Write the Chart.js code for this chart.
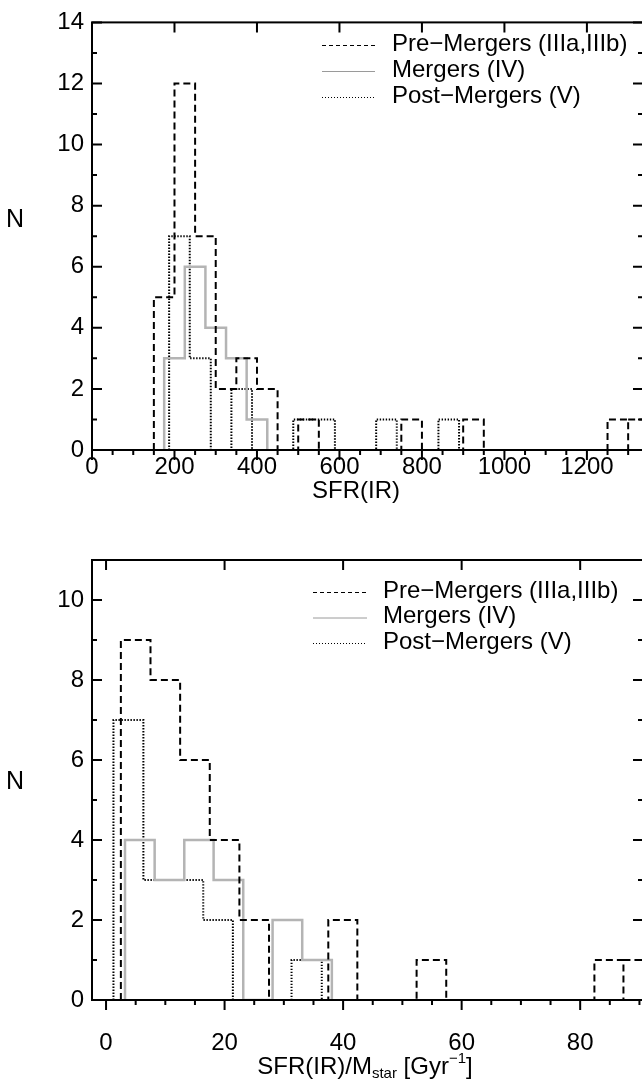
<!DOCTYPE html>
<html>
<head>
<meta charset="utf-8">
<script src="https://cdn.jsdelivr.net/npm/chart.js@4.4.1/dist/chart.umd.min.js"></script>
<style>
  html, body { margin: 0; padding: 0; background: #fff; overflow: hidden; width: 642px; height: 1080px; }
  .panel { position: absolute; left: 0; width: 660px; }
  #wrapTop { top: 0; height: 520px; }
  #wrapBot { top: 520px; height: 560px; }
  canvas { display: block; }
</style>
</head>
<body>
<div class="panel" id="wrapTop"><canvas id="sfr" width="660" height="520"></canvas></div>
<div class="panel" id="wrapBot"><canvas id="ssfr" width="660" height="560"></canvas></div>
<script>
// ---------- series labels ----------
const seriesLabels = ['Pre\u2212Mergers (IIIa,IIIb)', 'Mergers (IV)', 'Post\u2212Mergers (V)'];

// ---------- SFR(IR) histograms: bin edges and counts ----------
const sfrPreEdges = [150, 200, 250, 300, 350, 400, 450, 500, 550, 600, 650, 700, 750, 800, 850, 900, 950,
                     1000, 1050, 1100, 1150, 1200, 1250, 1300, 1350];
const sfrPreCounts = [5, 12, 7, 2, 3, 2, 0, 1, 0, 0, 0, 0, 1, 0, 0, 1, 0, 0, 0, 0, 0, 0, 1, 1];
const sfrPreBoxes = [23];            // bins drawn as a separate box
const sfrMergEdges = [175, 225, 275, 325, 375, 425];
const sfrMergCounts = [3, 6, 4, 3, 1];
const sfrPostEdges = [187, 237, 288, 338, 388, 438, 488, 539, 589, 639, 689, 739, 790, 840, 890];
const sfrPostCounts = [7, 3, 0, 2, 0, 0, 1, 1, 0, 0, 1, 0, 0, 1];

const sfrXTicks = [0, 200, 400, 600, 800, 1000, 1200];
const sfrYTicks = [0, 2, 4, 6, 8, 10, 12, 14];

// ---------- SFR(IR)/M_star histograms ----------
const ssfrPreEdges = [2.5, 7.5, 12.5, 17.5, 22.5, 27.5, 32.5, 37.5, 42.4, 47.4, 52.4, 57.4, 62.4, 67.4,
                      72.4, 77.4, 82.4, 87.3, 92.3];
const ssfrPreCounts = [9, 8, 6, 4, 2, 0, 0, 2, 0, 0, 1, 0, 0, 0, 0, 0, 1, 1];
const ssfrPreBoxes = [17];
const ssfrMergEdges = [3.2, 8.2, 13.2, 18.15, 23.15, 28.1, 33.1, 38.1];
const ssfrMergCounts = [4, 3, 4, 3, 0, 2, 1];
const ssfrPostEdges = [1.25, 6.3, 11.3, 16.4, 21.4, 26.4, 31.3, 36.4];
const ssfrPostCounts = [7, 3, 3, 2, 0, 0, 1];

const ssfrXTicks = [0, 20, 40, 60, 80];
const ssfrYTicks = [0, 2, 4, 6, 8, 10];

// ---------- helpers ----------
const FONT = "'Liberation Sans', Arial, Helvetica, sans-serif";

// step outline of a histogram: points at bin edges; each count holds until the next edge.
// A bin listed in `boxes` starts a new outline (the previous one closes at the baseline).
function outline(edges, counts, boxes) {
  const pts = [{ x: edges[0], y: 0 }];
  counts.forEach((c, i) => {
    if (boxes && boxes.includes(i)) {
      pts.push({ x: edges[i], y: 0 });
      pts.push({ x: edges[i], y: null });
    }
    pts.push({ x: edges[i], y: c });
  });
  pts.push({ x: edges[counts.length], y: 0 });
  return pts;
}

const styles = [
  { borderColor: '#000000', borderWidth: 2, borderDash: [7, 4], legendDash: [4, 3], legendColor: '#000' },
  { borderColor: '#b4b4b4', borderWidth: 2.5, borderDash: [], legendDash: [], legendColor: '#9a9a9a' },
  { borderColor: '#000000', borderWidth: 2, borderDash: [1.4, 1.6], legendDash: [1, 2], legendColor: '#000' }
];

function dataset(i, pts) {
  return {
    label: seriesLabels[i],
    data: pts,
    stepped: 'before',
    spanGaps: false,
    borderColor: styles[i].borderColor,
    borderWidth: styles[i].borderWidth,
    borderDash: styles[i].borderDash,
    borderCapStyle: 'butt',
    borderJoinStyle: 'miter',
    pointRadius: 0,
    fill: false,
    tension: 0
  };
}

// frame with inward ticks on left/top/right and outward ticks below
const framePlugin = {
  id: 'frame',
  afterDatasetsDraw(chart, args, o) {
    const { ctx, chartArea: a, scales: { x, y } } = chart;
    ctx.save();
    ctx.setLineDash([]);
    ctx.strokeStyle = '#000';
    ctx.lineWidth = 2;
    ctx.lineCap = 'butt';
    ctx.beginPath();
    // x ticks
    for (let v = o.xMinorFrom; v <= x.max + 1e-9; v += o.xMinorStep) {
      if (v < x.min - 1e-9) continue;
      const px = x.getPixelForValue(v);
      const major = o.xMajor.some(m => Math.abs(m - v) < 1e-6);
      const len = major ? 10 : 5;
      ctx.moveTo(px, a.bottom); ctx.lineTo(px, a.bottom + len);
      if (major) { ctx.moveTo(px, a.top); ctx.lineTo(px, a.top + 10); }
    }
    // y ticks
    for (let v = y.min; v <= y.max + 1e-9; v += o.yMinorStep) {
      const py = y.getPixelForValue(v);
      const major = o.yMajor.some(m => Math.abs(m - v) < 1e-6);
      const len = major ? 10 : 5;
      ctx.moveTo(a.left, py); ctx.lineTo(a.left + len, py);
      ctx.moveTo(a.right, py); ctx.lineTo(a.right - len, py);
    }
    ctx.stroke();
    ctx.strokeRect(a.left, a.top, a.right - a.left, a.bottom - a.top);

    // legend
    const L = o.legend;
    ctx.font = '24px ' + FONT;
    ctx.textBaseline = 'middle';
    ctx.textAlign = 'left';
    chart.data.datasets.forEach((ds, i) => {
      const yy = L.y + i * L.rowGap;
      ctx.beginPath();
      ctx.lineWidth = 1;
      ctx.strokeStyle = styles[i].legendColor;
      ctx.setLineDash(styles[i].legendDash);
      ctx.moveTo(L.x0, yy + 0.5); ctx.lineTo(L.x1, yy + 0.5);
      ctx.stroke();
      ctx.setLineDash([]);
      ctx.fillStyle = '#000';
      ctx.fillText(ds.label, L.tx, yy - 1);
    });

    // y axis letter
    ctx.font = '25px ' + FONT;
    ctx.textAlign = 'center';
    ctx.textBaseline = 'alphabetic';
    ctx.fillText('N', o.nPos[0], o.nPos[1]);

    // x axis title (with optional subscript / superscript parts)
    const parts = o.xTitle;
    let w = 0;
    parts.forEach(p => { ctx.font = (p.s || 24) + 'px ' + FONT; w += ctx.measureText(p.t).width; });
    let cx = o.xTitleX - w / 2;
    ctx.textAlign = 'left';
    parts.forEach(p => {
      ctx.font = (p.s || 24) + 'px ' + FONT;
      ctx.fillText(p.t, cx, o.xTitleY + (p.dy || 0));
      cx += ctx.measureText(p.t).width;
    });
    ctx.restore();
  }
};

function makeChart(id, cfg) {
  const tickFont = { family: FONT, size: 24 };
  return new Chart(document.getElementById(id), {
    type: 'line',
    data: { datasets: cfg.datasets },
    options: {
      responsive: false,
      devicePixelRatio: 1,
      animation: false,
      layout: { padding: { top: cfg.padTop, right: cfg.padRight, left: 0, bottom: 0 } },
      plugins: {
        legend: { display: false },
        tooltip: { enabled: false },
        frame: cfg.frame
      },
      scales: {
        x: {
          type: 'linear',
          min: cfg.xMin, max: cfg.xMax,
          grid: { display: false, drawTicks: false },
          border: { display: false },
          afterBuildTicks: s => { s.ticks = cfg.xTicks.map(v => ({ value: v })); },
          afterFit: s => { s.height = cfg.xHeight; },
          ticks: { font: tickFont, color: '#000', padding: cfg.xPad, maxRotation: 0, autoSkip: false,
                   callback: v => String(v) }
        },
        y: {
          type: 'linear',
          min: 0, max: cfg.yMax,
          grid: { display: false, drawTicks: false },
          border: { display: false },
          afterBuildTicks: s => { s.ticks = cfg.yTicks.map(v => ({ value: v })); },
          afterFit: s => { s.width = 92; },
          ticks: { font: tickFont, color: '#000', padding: 8, autoSkip: false, callback: v => String(v) }
        }
      }
    },
    plugins: [framePlugin]
  });
}

makeChart('sfr', {
  datasets: [
    dataset(0, outline(sfrPreEdges, sfrPreCounts, sfrPreBoxes)),
    dataset(1, outline(sfrMergEdges, sfrMergCounts)),
    dataset(2, outline(sfrPostEdges, sfrPostCounts))
  ],
  xMin: 0, xMax: 1336, yMax: 14,
  xTicks: sfrXTicks, yTicks: sfrYTicks,
  padTop: 9, padRight: 17, xHeight: 70, xPad: 3,
  frame: {
    xMajor: sfrXTicks, xMinorFrom: 0, xMinorStep: 50,
    yMajor: sfrYTicks, yMinorStep: 1,
    legend: { x0: 322, x1: 375, tx: 392, y: 45, rowGap: 26 },
    nPos: [15, 227],
    xTitle: [{ t: 'SFR(IR)' }],
    xTitleX: 356,
    xTitleY: 498
  }
});

makeChart('ssfr', {
  datasets: [
    dataset(0, outline(ssfrPreEdges, ssfrPreCounts, ssfrPreBoxes)),
    dataset(1, outline(ssfrMergEdges, ssfrMergCounts)),
    dataset(2, outline(ssfrPostEdges, ssfrPostCounts))
  ],
  xMin: -2.37, xMax: 90.6, yMax: 11,
  xTicks: ssfrXTicks, yTicks: ssfrYTicks,
  padTop: 40, padRight: 17, xHeight: 80, xPad: 29,
  frame: {
    xMajor: ssfrXTicks, xMinorFrom: 0, xMinorStep: 5,
    yMajor: ssfrYTicks, yMinorStep: 1,
    legend: { x0: 313, x1: 367, tx: 383, y: 72, rowGap: 25.5 },
    nPos: [15, 269],
    xTitle: [{ t: 'SFR(IR)/M' }, { t: 'star', s: 15, dy: 4 }, { t: ' [Gyr' }, { t: '\u22121', s: 15, dy: -11 }, { t: ']' }],
    xTitleX: 365,
    xTitleY: 554
  }
});
</script>
</body>
</html>
